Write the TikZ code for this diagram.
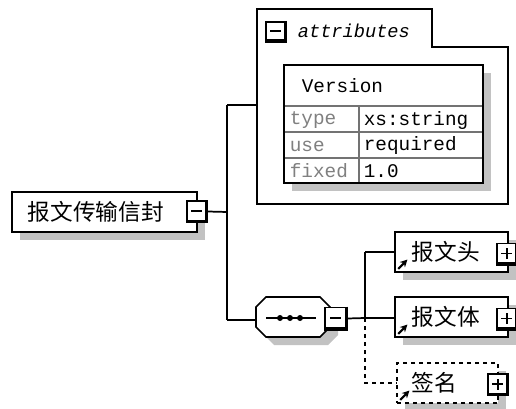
\documentclass[tikz,border=0pt]{standalone}
\usepackage{fontspec}
\newfontfamily\cjk{Noto Sans CJK SC}
\newfontfamily\mono{Liberation Mono}
\usetikzlibrary{shadows,arrows.meta}
\begin{document}
\begin{tikzpicture}[x=0.75pt,y=-0.75pt,line width=1.3pt,
  shade gray/.style={fill=black!24,draw=none},
  elem/.style={draw,fill=white,rectangle,inner sep=0pt,minimum height=30pt,
    drop shadow={shadow xshift=6pt,shadow yshift=-6pt,fill=black!24,opacity=1}},
  tog/.style={draw,fill=white,rectangle,inner sep=0pt,minimum width=15pt,minimum height=15.75pt},
  cjklbl/.style={anchor=west,inner sep=0pt,font=\cjk\fontsize{17}{17}\selectfont},
  monolbl/.style={anchor=west,inner sep=0pt,font=\mono\fontsize{14.5}{14.5}\selectfont},
  greylbl/.style={monolbl,text=black!50},
  refarrow/.style={-{Stealth[length=5.5pt,width=5.5pt]},line width=1.6pt}]
\useasboundingbox (0,0) rectangle (516,409);
\clip (0,0) rectangle (516,409);

% heavy right and bottom edges of the expand/collapse buttons
\newcommand\togedge[1]{\draw[line width=2.6pt] ([xshift=-0.9pt]#1.north east) -- ([xshift=-0.9pt,yshift=0.9pt]#1.south east) -- ([yshift=0.9pt]#1.south west);}
\newcommand\minussign[1]{\draw[line width=1.4pt] ([xshift=-4.5pt,yshift=0.4pt]#1.center) -- ([xshift=3.8pt,yshift=0.4pt]#1.center);}
\newcommand\plussign[1]{\minussign{#1}\draw[line width=1.4pt] ([xshift=-0.3pt,yshift=-3.8pt]#1.center) -- ([xshift=-0.3pt,yshift=4.5pt]#1.center);}

% ---- root element
\node[elem,minimum width=138.75pt] (root) at (104.5,212) {};
\node[cjklbl] (rootlbl) at (27,212) {报文传输信封};
\node[tog] (rootm) at (197,211.5) {};
\togedge{rootm}\minussign{rootm}

% ---- attribute group
\draw[fill=white] (257,9) -- (432,9) -- (432,47) -- (508,47) -- (508,204) -- (257,204) -- cycle;
\node[tog,minimum width=14.5pt,minimum height=14.5pt] (attrm) at (276,31.5) {};
\togedge{attrm}\minussign{attrm}
\node[monolbl,font=\mono\itshape\fontsize{14}{14}\selectfont] (attrlbl) at (297,31) {attributes};

% attribute table
\fill[shade gray] (292,73) rectangle (491,191);
\draw[fill=white] (284,65) rectangle (483,183);
\draw[black!55,line width=0.9pt] (284,106) -- (483,106) (284,132) -- (483,132)
  (284,158) -- (483,158) (359,106) -- (359,183);
\draw (284,65) rectangle (483,183);
\node[monolbl] (vername) at (301,86) {Version};
\node[greylbl] (ktype) at (289,120) {type};
\node[greylbl] (kuse) at (289,146) {use};
\node[greylbl] (kfixed) at (289,171) {fixed};
\node[monolbl] (vtype) at (363,120) {xs:string};
\node[monolbl] (vuse) at (363,146) {required};
\node[monolbl] (vfixed) at (363,171) {1.0};

% ---- sequence compositor
\fill[shade gray] (274,305) -- (328,305) -- (338,315) -- (338,335) -- (328,345) -- (274,345) -- (264,335) -- (264,315) -- cycle;
\draw[fill=white] (266,297) -- (320,297) -- (330,307) -- (330,327) -- (320,337) -- (266,337) -- (256,327) -- (256,307) -- cycle;
\coordinate (seqw) at (256,318);
\draw (266,318) -- (316,318);
\foreach \d in {280,290,300} \fill (\d,318) circle (3);
\node[tog,minimum width=16pt,minimum height=16.5pt] (seqm) at (336,318.5) {};
\togedge{seqm}\minussign{seqm}

% ---- child elements
\node[elem,minimum width=84.75pt] (head) at (451.5,252) {};
\node[cjklbl] (headlbl) at (411,252) {报文头};
\node[elem,minimum width=84.75pt] (body) at (451.5,317) {};
\node[cjklbl] (bodylbl) at (411,317) {报文体};
\node[elem,dashed,minimum width=75.75pt] (sign) at (447.5,383) {};
\node[cjklbl] (signlbl) at (411,383) {签名};

\node[tog] (headp) at (507,254) {};
\togedge{headp}\plussign{headp}
\node[tog] (bodyp) at (507,319) {};
\togedge{bodyp}\plussign{bodyp}
\node[tog] (signp) at (498,384.5) {};
\togedge{signp}\plussign{signp}

% reference arrows in the child boxes
\foreach \n in {head,body,sign}
  \draw[refarrow] ([xshift=3pt,yshift=3pt]\n.south west) -- ([xshift=10pt,yshift=10pt]\n.south west);

% ---- connectors
\coordinate (ja) at (227,105);
\coordinate (j1) at (227,212);
\coordinate (jb) at (227,320);
\coordinate (attrw) at (257,105);
\coordinate (jc) at (365,318);
\coordinate (jtop) at (365,252);
\coordinate (jbot) at (365,383);
\draw (rootm.east) -- (j1);
\draw (ja) -- (jb);
\draw (ja) -- (attrw);
\draw (jb) -- (seqw |- jb) -- (seqw);
\draw (seqm.east) -- (jc);
\draw (jtop) -- (jc);
\draw (jtop) -- (head.west);
\draw (jc) -- (body.west |- jc);
\draw[dashed] (jc) -- (jbot) -- (sign.west |- jbot);
\end{tikzpicture}
\end{document}
